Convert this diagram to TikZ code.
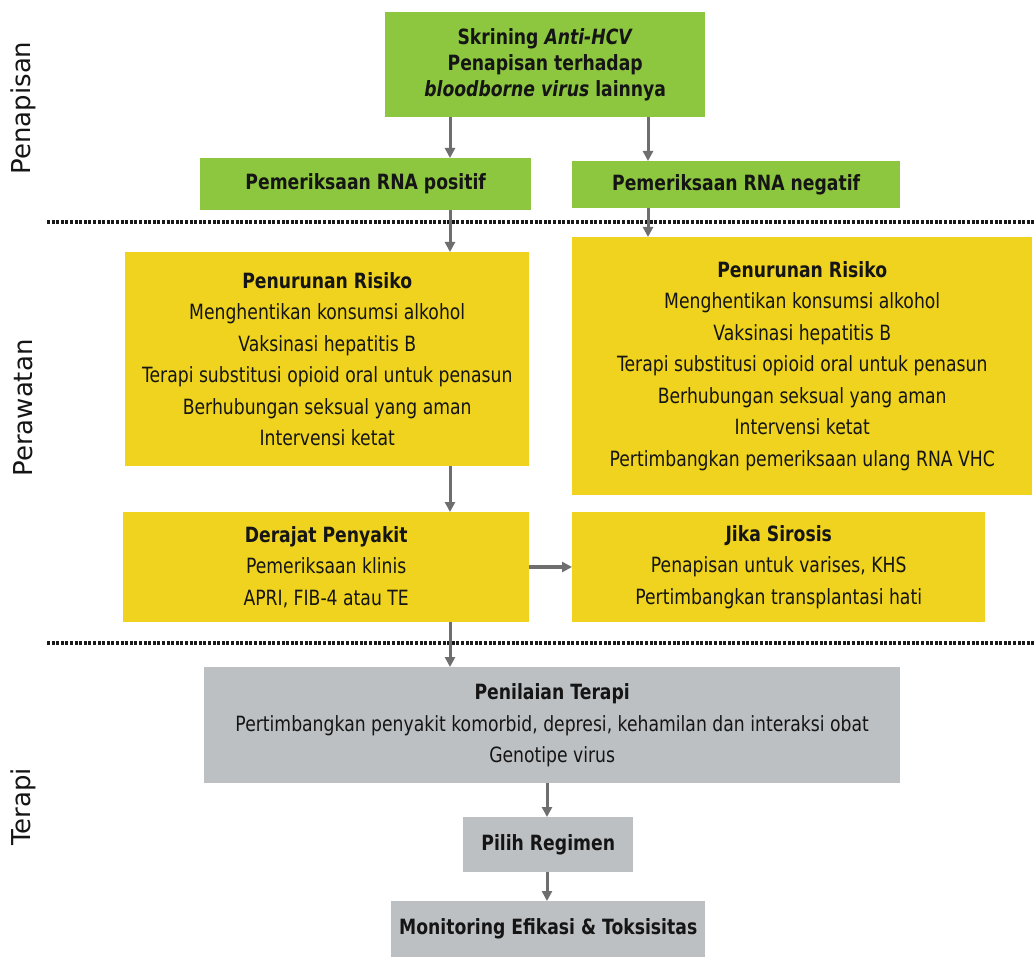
\documentclass[tikz,border=0pt]{standalone}
\usepackage{fontspec}
\setmainfont{DejaVu Sans}[FakeStretch=0.82]
\newfontfamily\sidefont{DejaVu Sans}
\usetikzlibrary{arrows.meta}
\definecolor{grn}{HTML}{8DC63F}
\definecolor{yel}{HTML}{EFD31E}
\definecolor{gry}{HTML}{BDC0C3}
\definecolor{arrc}{HTML}{6E6E6E}
\definecolor{txt}{HTML}{151515}
\definecolor{dotc}{HTML}{1A1A1A}
\tikzset{
  box/.style={inner sep=0pt, align=center, text=txt, anchor=north west,
              font=\fontsize{21}{31.5}\selectfont},
  gbox/.style={box, fill=grn},
  ybox/.style={box, fill=yel},
  greybox/.style={box, fill=gry},
  arw/.style={draw=arrc, line width=3pt, -{Triangle[length=10pt,width=10pt]}},
  dotline/.style={draw=dotc, line width=3.5pt, dash pattern=on 3pt off 1.6pt},
  sidelabel/.style={rotate=90, text=txt, font=\sidefont\fontsize{26}{30}\selectfont}
}
\begin{document}
\begin{tikzpicture}[x=1pt,y=-1pt]
\useasboundingbox (0,0) rectangle (1035,957);
\fill[white] (0,0) rectangle (1035,957);

% section labels
\node[sidelabel] (lab1) at (23,108) {Penapisan};
\node[sidelabel] (lab2) at (23,408) {Perawatan};
\node[sidelabel] (lab3) at (23,807) {Terapi};

% dotted separators
\coordinate (d1a) at (47,222);
\coordinate (d1b) at (1035,222);
\coordinate (d2a) at (47,643);
\coordinate (d2b) at (1035,643);
\draw[dotline] (d1a) -- (d1b);
\draw[dotline] (d2a) -- (d2b);

% boxes
\node[gbox, minimum width=320, minimum height=105, font=\fontsize{21}{26}\selectfont\bfseries] (top) at (385,12)
  {Skrining \textit{Anti-HCV}\\ Penapisan terhadap\\ \textit{bloodborne virus} lainnya};
\node[gbox, minimum width=331, minimum height=52] (pos) at (200,158)
  {\bfseries Pemeriksaan RNA positif};
\node[gbox, minimum width=328, minimum height=47] (neg) at (572,161)
  {\bfseries Pemeriksaan RNA negatif};

\node[ybox, minimum width=404, minimum height=214] (prl) at (125,252)
  {{\bfseries Penurunan Risiko}\\ Menghentikan konsumsi alkohol\\ Vaksinasi hepatitis B\\
   Terapi substitusi opioid oral untuk penasun\\ Berhubungan seksual yang aman\\ Intervensi ketat};
\node[ybox, minimum width=460, minimum height=258] (prr) at (572,237)
  {{\bfseries Penurunan Risiko}\\ Menghentikan konsumsi alkohol\\ Vaksinasi hepatitis B\\
   Terapi substitusi opioid oral untuk penasun\\ Berhubungan seksual yang aman\\ Intervensi ketat\\
   Pertimbangkan pemeriksaan ulang RNA VHC};

\node[ybox, minimum width=406, minimum height=110] (der) at (123,512)
  {{\bfseries Derajat Penyakit}\\ Pemeriksaan klinis\\ APRI, FIB-4 atau TE};
\node[ybox, minimum width=413, minimum height=110] (sir) at (572,512)
  {{\bfseries Jika Sirosis}\\ Penapisan untuk varises, KHS\\ Pertimbangkan transplantasi hati};

\node[greybox, minimum width=696, minimum height=116] (pen) at (204,667)
  {{\bfseries Penilaian Terapi}\\ Pertimbangkan penyakit komorbid, depresi, kehamilan dan interaksi obat\\ Genotipe virus};
\node[greybox, minimum width=170, minimum height=55] (pil) at (463,817)
  {\bfseries Pilih Regimen};
\node[greybox, minimum width=314, minimum height=56] (mon) at (391,901)
  {\bfseries Monitoring Efikasi \& Toksisitas};

% connectors
\coordinate (xa) at (450,0);
\coordinate (xb) at (648,0);
\coordinate (xc) at (547,0);
\coordinate (ya) at (0,567);
\draw[arw] (top.south -| xa) -- (pos.north -| xa);
\draw[arw] (top.south -| xb) -- (neg.north -| xb);
\draw[arw] (pos.south -| xa) -- (prl.north -| xa);
\draw[arw] (neg.south -| xb) -- (prr.north -| xb);
\draw[arw] (prl.south -| xa) -- (der.north -| xa);
\draw[arw, line width=4pt] (der.east |- ya) -- (sir.west |- ya);
\draw[arw] (der.south -| xa) -- (pen.north -| xa);
\draw[arw] (pen.south -| xc) -- (pil.north -| xc);
\draw[arw] (pil.south -| xc) -- (mon.north -| xc);
\end{tikzpicture}
\end{document}
